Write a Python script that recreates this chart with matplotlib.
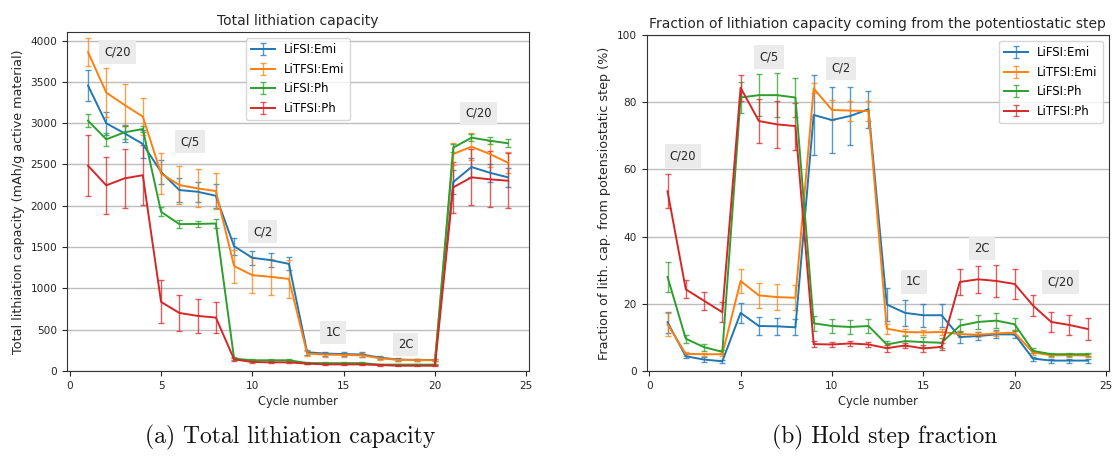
import numpy as np
import matplotlib
matplotlib.use("Agg")
import matplotlib.pyplot as plt

# --- Data ---
cycles = np.arange(1, 25)
series_names = ["LiFSI:Emi", "LiTFSI:Emi", "LiFSI:Ph", "LiTFSI:Ph"]

# Total lithiation capacity (mAh/g active material), mean and std per cycle
cap_lifsi_emi = [3455, 2998, 2877, 2748, 2410, 2190, 2170, 2121, 1510, 1370, 1342, 1297,
                 227, 211, 205, 200, 162, 138, 135, 133, 2287, 2469, 2400, 2344]
cap_lifsi_emi_err = [190, 140, 100, 170, 150, 145, 120, 145, 105, 85, 85, 80,
                     30, 25, 25, 25, 20, 15, 15, 15, 145, 115, 110, 115]
cap_litfsi_emi = [3859, 3370, 3220, 3079, 2390, 2251, 2210, 2178, 1270, 1160, 1140, 1115,
                  211, 199, 195, 190, 154, 134, 132, 130, 2627, 2715, 2627, 2521]
cap_litfsi_emi_err = [170, 300, 250, 220, 250, 235, 230, 220, 200, 215, 215, 230,
                      30, 25, 25, 25, 15, 12, 12, 12, 135, 165, 160, 130]
cap_lifsi_ph = [3030, 2804, 2889, 2929, 1927, 1778, 1780, 1785, 150, 130, 130, 130,
                97, 95, 95, 95, 77, 77, 77, 77, 2703, 2824, 2788, 2756]
cap_lifsi_ph_err = [75, 75, 80, 40, 55, 45, 40, 60, 15, 10, 10, 10,
                    8, 8, 8, 8, 6, 6, 6, 6, 50, 40, 40, 50]
cap_litfsi_ph = [2485, 2247, 2332, 2370, 836, 703, 667, 647, 141, 109, 105, 105,
                 89, 80, 80, 80, 72, 64, 64, 64, 2223, 2344, 2320, 2303]
cap_litfsi_ph_err = [370, 345, 355, 360, 260, 215, 210, 190, 15, 10, 10, 10,
                     8, 8, 8, 8, 6, 6, 6, 6, 310, 340, 340, 330]

# Fraction of lithiation capacity from the potentiostatic hold (%)
frac_lifsi_emi = [14.5, 4.4, 3.4, 2.9, 17.3, 13.4, 13.3, 13.0, 76.2, 74.7, 75.9, 77.9,
                  19.8, 17.3, 16.6, 16.6, 10.1, 10.4, 10.9, 10.9, 3.7, 3.1, 3.1, 3.1]
frac_lifsi_emi_err = [3.2, 0.6, 0.7, 0.5, 3.0, 2.6, 2.6, 2.4, 12.0, 9.7, 8.5, 5.5,
                      4.8, 3.8, 3.4, 3.4, 1.9, 1.2, 1.2, 1.2, 0.6, 0.6, 0.6, 0.6]
frac_litfsi_emi = [13.9, 5.1, 5.0, 5.0, 26.8, 22.5, 22.0, 21.8, 84.1, 77.7, 77.5, 77.4,
                   12.6, 11.6, 11.5, 11.6, 11.0, 10.8, 11.2, 11.4, 5.5, 4.7, 4.7, 4.6]
frac_litfsi_emi_err = [3.5, 0.5, 0.5, 0.5, 3.5, 3.6, 3.8, 3.7, 1.5, 3.0, 3.0, 3.0,
                       1.5, 0.8, 0.8, 0.8, 0.8, 0.8, 0.8, 0.8, 0.6, 0.5, 0.5, 0.5]
frac_lifsi_ph = [28.0, 9.6, 7.1, 5.7, 81.4, 82.1, 82.1, 81.4, 14.2, 13.4, 13.1, 13.4,
                 7.9, 8.9, 8.6, 8.4, 13.5, 14.6, 15.0, 13.9, 6.0, 5.0, 5.0, 5.0]
frac_lifsi_ph_err = [4.5, 1.2, 1.0, 0.5, 4.5, 6.2, 6.6, 5.7, 2.3, 2.0, 2.0, 2.0,
                     1.0, 1.5, 1.5, 1.5, 2.0, 2.0, 2.3, 2.0, 0.7, 0.5, 0.5, 0.5]
frac_litfsi_ph = [53.5, 24.3, 20.9, 17.5, 84.3, 74.4, 73.4, 72.9, 8.0, 7.9, 8.2, 7.9,
                  6.8, 7.6, 6.7, 7.2, 26.5, 27.3, 26.8, 25.9, 19.5, 14.6, 13.7, 12.5]
frac_litfsi_ph_err = [5.0, 2.7, 2.7, 3.0, 3.8, 6.5, 7.0, 7.0, 1.0, 0.8, 0.8, 0.8,
                      1.0, 0.8, 1.0, 1.0, 3.8, 4.1, 4.9, 4.4, 3.0, 3.1, 3.0, 3.2]

rate_labels = ["C/20", "C/5", "C/2", "1C", "2C", "C/20"]

cap_series = [(cap_lifsi_emi, cap_lifsi_emi_err), (cap_litfsi_emi, cap_litfsi_emi_err),
              (cap_lifsi_ph, cap_lifsi_ph_err), (cap_litfsi_ph, cap_litfsi_ph_err)]
frac_series = [(frac_lifsi_emi, frac_lifsi_emi_err), (frac_litfsi_emi, frac_litfsi_emi_err),
               (frac_lifsi_ph, frac_lifsi_ph_err), (frac_litfsi_ph, frac_litfsi_ph_err)]

# --- Plotting ---
text_col = "#262626"
box = dict(boxstyle="square,pad=0.45", facecolor="#ebebeb", edgecolor="none")


def draw_panel(ax, series, title, ylabel, label_pos, legend_loc):
    for (y, err), name in zip(series, series_names):
        line, caps, bars = ax.errorbar(cycles, y, yerr=err, label=name, lw=1.4,
                                       elinewidth=1.0, capsize=2.2, capthick=1.0)
        for c in caps:
            c.set_alpha(0.75)
        for b in bars:
            b.set_alpha(0.75)
    ax.set_title(title, fontsize=10, color=text_col, pad=5)
    ax.set_xlabel("Cycle number", fontsize=8.3, color=text_col, labelpad=3)
    ax.set_ylabel(ylabel, fontsize=9.2, color=text_col, labelpad=4)
    ax.tick_params(labelsize=7.6, colors=text_col, length=3.5)
    ax.yaxis.grid(True, color="#bdbdbd", lw=1.0)
    ax.set_axisbelow(True)
    ax.set_xticks([0, 5, 10, 15, 20, 25])
    for s in ax.spines.values():
        s.set_color("#333333")
    for txt, (x, y) in zip(rate_labels, label_pos):
        ax.text(x, y, txt, ha="center", va="center", fontsize=8.3,
                color=text_col, bbox=box)
    ax.legend(loc=legend_loc, fontsize=8.5, handlelength=2.0, borderpad=0.45,
              labelspacing=0.55, framealpha=0.8)


fig = plt.figure(figsize=(11.17, 4.59), dpi=100)
ax1 = fig.add_axes([0.060, 0.1917, 0.4136, 0.738])
ax2 = fig.add_axes([0.5788, 0.1917, 0.4138, 0.732])

draw_panel(ax1, cap_series, "Total lithiation capacity",
           "Total lithiation capacity (mAh/g active material)",
           [(2.6, 3860), (6.6, 2776), (10.56, 1685), (14.42, 465), (18.39, 324), (22.37, 3120)],
           "upper center")
ax1.set_ylim(0, 4100)
ax1.set_yticks(np.arange(0, 4001, 500))

draw_panel(ax2, frac_series,
           "Fraction of lithiation capacity coming from the potentiostatic step",
           "Fraction of lith. cap. from potensiostatic step (%)",
           [(1.85, 64.0), (6.56, 93.5), (10.51, 90.1), (14.48, 26.5), (18.2, 36.5), (22.5, 26.5)],
           "upper right")
ax2.set_ylim(0, 100)

for ax in (ax1, ax2):
    ax.set_xlim(-0.15, 25.15)

# Sub-captions below each panel
fig.text(0.260, 0.048, "(a) Total lithiation capacity", fontfamily="cmr10",
         fontsize=17, ha="center", va="center", color="#111111")
fig.text(0.792, 0.048, "(b) Hold step fraction", fontfamily="cmr10",
         fontsize=17, ha="center", va="center", color="#111111")

fig.savefig("out.png", dpi=100)
